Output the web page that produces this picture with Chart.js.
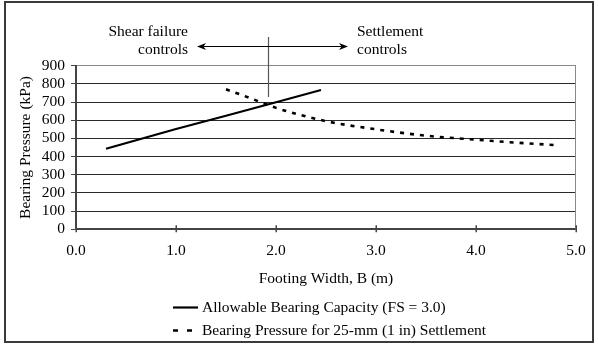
<!DOCTYPE html>
<html>
<head>
<meta charset="utf-8">
<script src="https://cdn.jsdelivr.net/npm/chart.js@4/dist/chart.umd.min.js"></script>
<style>
  html, body { margin: 0; padding: 0; background: #fff; }
  canvas { display: block; }
</style>
</head>
<body>
<canvas id="c" width="598" height="345"></canvas>
<script>
// Footing width B (m) vs. bearing pressure (kPa)
const capacityWidths = [0.3, 1.0, 1.5, 2.0, 2.45];
const capacityValues = [443, 552, 625, 699, 766];

const settlementWidths = [1.5, 1.75, 2.0, 2.5, 3.0, 3.5, 4.0, 4.5, 4.83];
const settlementValues = [770, 720, 668, 595, 550, 515, 493, 473, 462];

const xTicks = [0, 1, 2, 3, 4, 5];
const yTicks = [0, 100, 200, 300, 400, 500, 600, 700, 800, 900];

const seriesNames = [
  'Allowable Bearing Capacity (FS = 3.0)',
  'Bearing Pressure for 25-mm (1 in) Settlement'
];
const axisTitles = { x: 'Footing Width, B (m)', y: 'Bearing Pressure (kPa)' };

// Boundary between the two controlling regimes, and the arrow extents
const boundaryWidth = 1.92;
const boundaryPressure = 728;
const arrowFrom = 1.21;
const arrowTo = 2.72;
const leftNote = ['Shear failure', 'controls'];
const rightNote = ['Settlement', 'controls'];

const FONT = '"Liberation Serif", "Times New Roman", serif';
const FONT_SIZE = 15.5;
const toPoints = (xs, ys) => xs.map((x, i) => ({ x, y: ys[i] }));

const PLOT = { left: 76, right: 576, top: 65.7, bottom: 229.3 };

function arrowHead(ctx, x, y, dir) {
  ctx.beginPath();
  ctx.moveTo(x, y);
  ctx.lineTo(x - dir * 9, y - 3.5);
  ctx.lineTo(x - dir * 6.5, y);
  ctx.lineTo(x - dir * 9, y + 3.5);
  ctx.closePath();
  ctx.fill();
}

const decorations = {
  id: 'decorations',
  beforeDatasetsDraw(chart) {
    const { ctx, chartArea: a } = chart;
    ctx.save();
    // plot frame on the right
    ctx.strokeStyle = '#8a8a8a';
    ctx.lineWidth = 1;
    ctx.beginPath();
    ctx.moveTo(a.right - 0.5, a.top);
    ctx.lineTo(a.right - 0.5, a.bottom);
    ctx.stroke();
    ctx.restore();
  },
  afterDraw(chart) {
    const { ctx, chartArea: a, scales } = chart;
    const xs = scales.x, ys = scales.y;
    ctx.save();

    // outer frame
    ctx.strokeStyle = '#3a3a3a';
    ctx.lineWidth = 2;
    ctx.strokeRect(5, 2, 588, 340);

    // x tick marks crossing the axis
    ctx.strokeStyle = '#444';
    ctx.lineWidth = 1.5;
    xTicks.forEach(v => {
      const px = Math.round(xs.getPixelForValue(v)) + 0.25;
      ctx.beginPath();
      ctx.moveTo(px, a.bottom - 4);
      ctx.lineTo(px, a.bottom + 3);
      ctx.stroke();
    });

    // boundary line
    const bx = Math.round(xs.getPixelForValue(boundaryWidth)) + 0.5;
    ctx.strokeStyle = '#555';
    ctx.lineWidth = 1.2;
    ctx.beginPath();
    ctx.moveTo(bx, 37);
    ctx.lineTo(bx, ys.getPixelForValue(boundaryPressure));
    ctx.stroke();

    // double-headed arrow
    const ay = 46.5;
    const ax1 = xs.getPixelForValue(arrowFrom);
    const ax2 = xs.getPixelForValue(arrowTo);
    ctx.strokeStyle = '#000';
    ctx.fillStyle = '#000';
    ctx.lineWidth = 1;
    ctx.beginPath();
    ctx.moveTo(ax1 + 4, ay);
    ctx.lineTo(ax2 - 4, ay);
    ctx.stroke();
    arrowHead(ctx, ax1, ay, -1);
    arrowHead(ctx, ax2, ay, 1);

    // notes
    ctx.font = FONT_SIZE + 'px ' + FONT;
    ctx.fillStyle = '#000';
    ctx.textBaseline = 'middle';
    ctx.textAlign = 'right';
    ctx.fillText(leftNote[0], 188, 32);
    ctx.fillText(leftNote[1], 188, 50);
    ctx.textAlign = 'left';
    ctx.fillText(rightNote[0], 357, 32);
    ctx.fillText(rightNote[1], 357, 50);

    // axis titles
    ctx.textAlign = 'center';
    ctx.fillText(axisTitles.x, (a.left + a.right) / 2, 279);
    ctx.save();
    ctx.translate(26, (a.top + a.bottom) / 2);
    ctx.rotate(-Math.PI / 2);
    ctx.fillText(axisTitles.y, 0, 0);
    ctx.restore();

    // legend
    const rows = [307.5, 330.5];
    const sampleDash = [[], [5, 9]];
    chart.data.datasets.forEach((ds, i) => {
      const y = rows[i];
      ctx.save();
      ctx.strokeStyle = ds.borderColor;
      ctx.lineWidth = ds.borderWidth;
      ctx.setLineDash(sampleDash[i]);
      ctx.beginPath();
      ctx.moveTo(173, y);
      ctx.lineTo(198, y);
      ctx.stroke();
      ctx.restore();
      ctx.textAlign = 'left';
      ctx.fillText(ds.label, 202, y);
    });

    ctx.restore();
  }
};

new Chart(document.getElementById('c'), {
  type: 'scatter',
  data: {
    datasets: [
      {
        label: seriesNames[0],
        data: toPoints(capacityWidths, capacityValues),
        showLine: true,
        borderColor: '#000',
        borderWidth: 2.2,
        pointRadius: 0,
        tension: 0
      },
      {
        label: seriesNames[1],
        data: toPoints(settlementWidths, settlementValues),
        showLine: true,
        borderColor: '#000',
        borderWidth: 2.6,
        borderDash: [4, 6],
        pointRadius: 0,
        cubicInterpolationMode: 'monotone'
      }
    ]
  },
  options: {
    responsive: false,
    animation: false,
    events: [],
    layout: { padding: { left: 0, right: 598 - PLOT.right, top: PLOT.top, bottom: 0 } },
    plugins: { legend: { display: false }, tooltip: { enabled: false } },
    scales: {
      x: {
        type: 'linear',
        min: 0,
        max: 5,
        afterFit(s) { s.height = 345 - PLOT.bottom; },
        afterBuildTicks(s) { s.ticks = xTicks.map(v => ({ value: v })); },
        ticks: {
          callback: v => v.toFixed(1),
          font: { family: FONT, size: FONT_SIZE },
          color: '#000',
          padding: 12,
          maxRotation: 0,
          autoSkip: false
        },
        grid: { drawOnChartArea: false, drawTicks: false },
        border: { color: '#444', width: 2 }
      },
      y: {
        min: 0,
        max: 900,
        afterFit(s) { s.width = PLOT.left; },
        afterBuildTicks(s) { s.ticks = yTicks.map(v => ({ value: v })); },
        ticks: {
          font: { family: FONT, size: FONT_SIZE },
          color: '#000',
          padding: 6,
          autoSkip: false
        },
        grid: {
          color: c => (c.tick && c.tick.value === 900 ? '#8a8a8a' : '#2a2a2a'),
          lineWidth: 1,
          tickLength: 5,
          tickColor: '#444'
        },
        border: { color: '#444', width: 2 }
      }
    }
  },
  plugins: [decorations]
});
</script>
</body>
</html>
